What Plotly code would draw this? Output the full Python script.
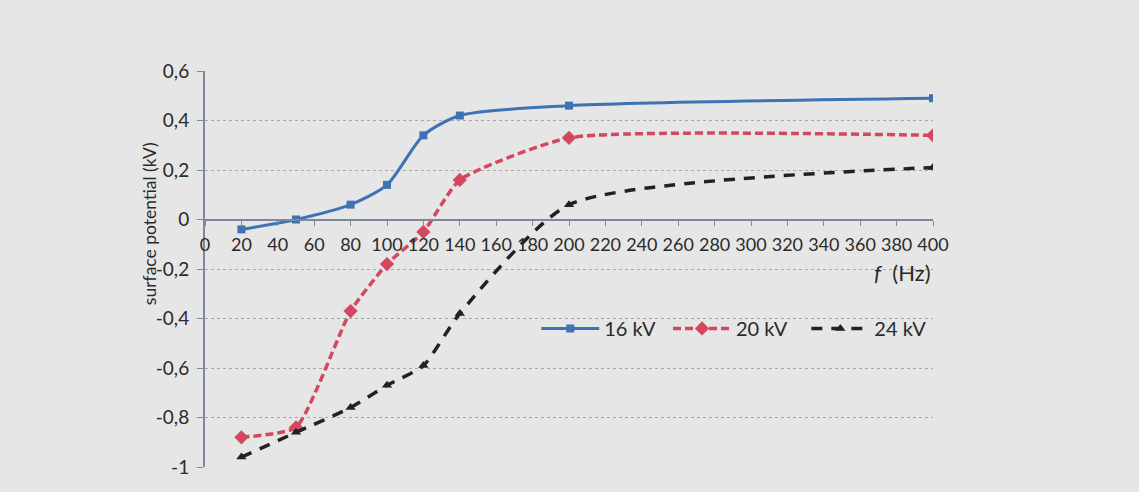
import plotly.graph_objects as go

freq = [20, 50, 80, 100, 120, 140, 200, 400]
kv16 = [-0.04, 0.0, 0.06, 0.14, 0.34, 0.42, 0.46, 0.49]
kv20 = [-0.88, -0.84, -0.37, -0.18, -0.05, 0.16, 0.33, 0.34]
kv24 = [-0.96, -0.86, -0.76, -0.67, -0.59, -0.38, 0.06, 0.21]

y_tickvals = [-1, -0.8, -0.6, -0.4, -0.2, 0, 0.2, 0.4, 0.6]
y_ticktext = ["-1", "-0,8", "-0,6", "-0,4", "-0,2", "0", "0,2", "0,4", "0,6"]

FONT = "Lato, 'Open Sans', sans-serif"
BG = "#e6e6e6"
TXT = "#2a2a2a"

fig = go.Figure()
fig.add_trace(go.Scatter(
    x=freq, y=kv16, name="16 kV", mode="lines+markers", legend="legend",
    line=dict(color="#3d72b4", width=3, shape="spline", smoothing=0.7),
    marker=dict(symbol="square", size=8, color="#3d72b4"),
))
fig.add_trace(go.Scatter(
    x=freq, y=kv20, name="20 kV", mode="lines+markers", legend="legend2",
    line=dict(color="#d4485f", width=3.5, dash="8px,4px", shape="spline", smoothing=0.5),
    marker=dict(symbol="diamond", size=11, color="#d4485f"),
))
fig.add_trace(go.Scatter(
    x=freq, y=kv24, name="24 kV", mode="lines+markers", legend="legend3",
    line=dict(color="#222222", width=3.5, dash="11px,9px", shape="spline", smoothing=0.6),
    marker=dict(symbol="triangle-up", size=9, color="#222222"),
))

leg = dict(orientation="h", y=0.35, xanchor="left", yanchor="middle",
           bgcolor="rgba(0,0,0,0)", font=dict(size=20, color=TXT), itemwidth=58)

fig.update_layout(
    width=1139, height=492,
    margin=dict(l=205, r=206, t=71, b=25),
    paper_bgcolor=BG, plot_bgcolor=BG,
    font=dict(family=FONT, size=18, color=TXT),
    showlegend=True,
    legend=dict(leg, x=0.455),
    legend2=dict(leg, x=0.636),
    legend3=dict(leg, x=0.826),
    xaxis=dict(
        range=[0, 400], tick0=0, dtick=20, anchor="free", position=0.625,
        showline=True, linecolor="#7d8898", linewidth=2,
        ticks="outside", ticklen=5, tickcolor="#7d8898", tickwidth=1,
        showgrid=False, zeroline=False, ticklabelstandoff=4,
        tickfont=dict(size=18, color=TXT),
    ),
    yaxis=dict(
        range=[-1, 0.6], tickvals=y_tickvals, ticktext=y_ticktext,
        showline=True, linecolor="#7d8898", linewidth=2,
        ticks="outside", ticklen=6, tickcolor="#7d8898",
        showgrid=True, gridcolor="#a8a8a8", gridwidth=1, griddash="dot",
        zeroline=False, tickfont=dict(size=19, color=TXT), ticklabelstandoff=4,
    ),
    annotations=[
        dict(text="surface potential (kV)", textangle=-90, xref="paper", yref="paper",
             x=-0.076, y=0.615, xanchor="center", yanchor="middle", showarrow=False,
             font=dict(size=17.5, color=TXT)),
        dict(text="<i>f</i>&nbsp;&nbsp;(Hz)", xref="paper", yref="paper", x=1.0, y=0.49,
             xanchor="right", yanchor="middle", showarrow=False,
             font=dict(size=22, color=TXT)),
    ],
)

fig.write_html("out.html")
